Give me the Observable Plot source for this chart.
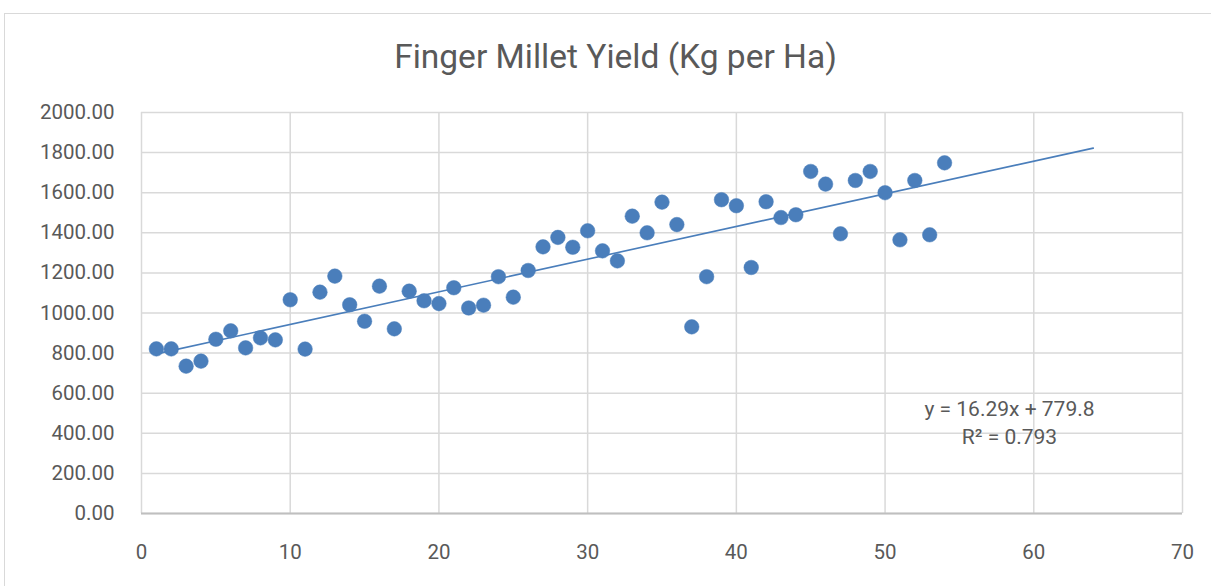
<!DOCTYPE html>
<html>
<head>
<meta charset="utf-8">
<script src="https://cdn.jsdelivr.net/npm/d3@7"></script>
<script src="https://cdn.jsdelivr.net/npm/@observablehq/plot@0.6"></script>
<style>
  body { margin: 0; background: #fff; }
  #chart { position: relative; width: 1211px; height: 586px; overflow: hidden; background: #fff; }
  #frame { position: absolute; left: 4px; top: 13px; width: 1240px; height: 620px; border: 1.5px solid #d9d9d9; box-sizing: border-box; }
  #title { position: relative; height: 100px; box-sizing: border-box; padding-top: 40px; padding-left: 20px;
           text-align: center; font-family: "Roboto", sans-serif; font-size: 33.5px; line-height: 1; color: #595959; }
  #plot { position: relative; }
  #plot svg { overflow: visible; }
</style>
</head>
<body>
<div id="chart">
  <div id="frame"></div>
  <div id="title"></div>
  <div id="plot"></div>
</div>
<script>
const chartTitle = "Finger Millet Yield (Kg per Ha)";
const xValues = [1,2,3,4,5,6,7,8,9,10,11,12,13,14,15,16,17,18,19,20,21,22,23,24,25,26,27,28,29,30,31,32,33,34,35,36,37,38,39,40,41,42,43,44,45,46,47,48,49,50,51,52,53,54];
const yieldValues = [821,821,735,760,869,911,826,876,866,1066,820,1104,1184,1041,959,1134,921,1109,1061,1047,1126,1025,1039,1181,1079,1212,1330,1377,1328,1410,1310,1260,1483,1400,1553,1441,931,1181,1565,1535,1227,1555,1476,1490,1706,1643,1395,1661,1706,1600,1365,1661,1390,1749];
const xTicks = [0,10,20,30,40,50,60,70];
const yTicks = [0,200,400,600,800,1000,1200,1400,1600,1800,2000];
const trendSlope = 16.29;
const trendIntercept = 779.8;
const trendRSquared = 0.793;
const trendXRange = [1, 64];

document.getElementById("title").textContent = chartTitle;

const points = xValues.map((x, i) => ({x, y: yieldValues[i]}));
const trend = trendXRange.map(x => ({x, y: trendSlope * x + trendIntercept}));
const eqLabel = `y = ${trendSlope}x + ${trendIntercept}\nR² = ${trendRSquared}`;

const font = '"Roboto", sans-serif';
const blue = "#4a7ebb";

const plot = Plot.plot({
  width: 1211,
  height: 486,
  marginLeft: 141,
  marginRight: 29,
  marginTop: 12,
  marginBottom: 73,
  style: { fontFamily: font, fontSize: "20.5px", color: "#595959", background: "transparent" },
  x: { domain: [0, 70] },
  y: { domain: [0, 2000] },
  marks: [
    Plot.gridX(xTicks, { stroke: "#d9d9d9", strokeOpacity: 1, strokeWidth: 1.5 }),
    Plot.gridY(yTicks, { stroke: "#d9d9d9", strokeOpacity: 1, strokeWidth: 1.5 }),
    Plot.ruleY([0], { stroke: "#bfbfbf", strokeWidth: 2 }),
    Plot.axisX(xTicks, { tickSize: 0, tickPadding: 31, label: null, fontSize: 20.5 }),
    Plot.axisY(yTicks, { tickSize: 0, tickPadding: 27, label: null, tickFormat: d3.format(".2f"), fontSize: 20.5 }),
    Plot.line(trend, { x: "x", y: "y", stroke: blue, strokeWidth: 1.6 }),
    Plot.dot(points, { x: "x", y: "y", r: 7.3, fill: blue, stroke: blue, strokeWidth: 0.5 }),
    Plot.text([eqLabel], { text: d => d, frameAnchor: "top-left", dx: 868, dy: 309, lineAnchor: "middle",
      textAnchor: "middle", lineHeight: 1.33, fontSize: 21, fill: "#595959" })
  ]
});
document.getElementById("plot").appendChild(plot);
</script>
</body>
</html>
